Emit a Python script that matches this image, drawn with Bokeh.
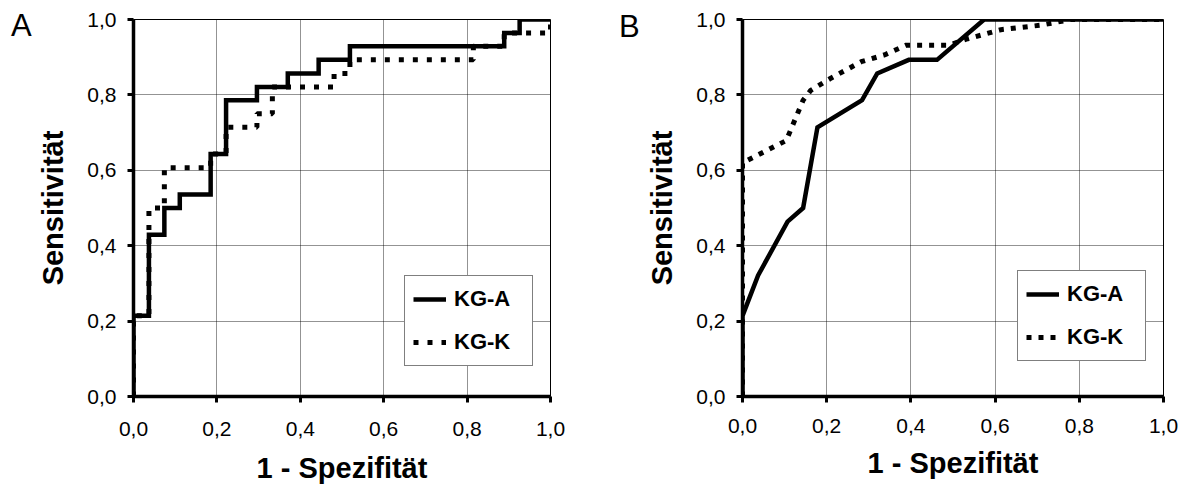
from bokeh.plotting import figure
from bokeh.layouts import row
from bokeh.models import (Range1d, FixedTicker, CustomJSTickFormatter, Legend, LegendItem,
                          Div)
from bokeh.embed import file_html
from bokeh.resources import INLINE

# ---------------- data ----------------
tick_values = [0.0, 0.2, 0.4, 0.6, 0.8, 1.0]
series_names = ["KG-A", "KG-K"]
panel_letters = ["A", "B"]
x_title = "1 - Spezifität"
y_title = "Sensitivität"

# Panel A: step ROC curves
a_kga_x = [0, 0, 0.037, 0.037, 0.074, 0.074, 0.111, 0.111, 0.185, 0.185, 0.222, 0.222,
           0.296, 0.296, 0.370, 0.370, 0.444, 0.444, 0.519, 0.519, 0.889, 0.889,
           0.926, 0.926, 1.0]
a_kga_y = [0, 0.214, 0.214, 0.429, 0.429, 0.5, 0.5, 0.536, 0.536, 0.643, 0.643, 0.786,
           0.786, 0.821, 0.821, 0.857, 0.857, 0.893, 0.893, 0.929, 0.929, 0.964,
           0.964, 1.0, 1.0]
a_kgk_x = [0, 0, 0.037, 0.037, 0.074, 0.074, 0.185, 0.185, 0.222, 0.222, 0.296, 0.296,
           0.333, 0.333, 0.481, 0.481, 0.519, 0.519, 0.815, 0.815, 0.889, 0.889,
           1.0, 1.0]
a_kgk_y = [0, 0.214, 0.214, 0.5, 0.5, 0.607, 0.607, 0.643, 0.643, 0.714, 0.714, 0.75,
           0.75, 0.821, 0.821, 0.857, 0.857, 0.893, 0.893, 0.929, 0.929, 0.964,
           0.964, 1.0]

# Panel B: polygonal ROC curves
b_kga_x = [0, 0, 0.037, 0.107, 0.144, 0.178, 0.284, 0.320, 0.395, 0.462, 0.574, 1.0]
b_kga_y = [0, 0.214, 0.321, 0.464, 0.5, 0.714, 0.786, 0.857, 0.893, 0.893, 1.0, 1.0]
b_kgk_x = [0, 0, 0.104, 0.144, 0.162, 0.211, 0.282, 0.337, 0.389, 0.490, 0.535, 0.614,
           0.709, 0.780, 1.0]
b_kgk_y = [0, 0.62, 0.679, 0.786, 0.812, 0.845, 0.888, 0.906, 0.932, 0.932, 0.949, 0.973,
           0.985, 1.0, 1.0]

FONT = "Liberation Sans"
H = 486


def letter_div(width, letter, pad_left, pad_top):
    html = ('<div style="margin:0;padding:%dpx 0 0 %dpx;font-family:\'%s\';'
            'font-size:31px;line-height:31px;color:black;">%s</div>'
            % (pad_top, pad_left, FONT, letter))
    return Div(text=html, width=width, height=H, margin=0)


def make_panel(width, b_left, b_right, b_top, b_bottom, xs, ys, legend_loc,
               dash, x_lab_standoff, x_title_standoff):
    p = figure(width=width, height=H, output_backend="svg", toolbar_location=None,
               x_range=Range1d(0, 1), y_range=Range1d(0, 1),
               min_border_left=b_left, min_border_right=b_right,
               min_border_top=b_top, min_border_bottom=b_bottom)
    p.background_fill_color = "white"
    p.border_fill_color = "white"
    p.outline_line_color = "black"
    p.outline_line_width = 1

    fmt = CustomJSTickFormatter(code="return tick.toFixed(1).replace('.', ',');")
    for ax in (p.xaxis[0], p.yaxis[0]):
        ax.ticker = FixedTicker(ticks=tick_values)
        ax.formatter = fmt
        ax.axis_line_width = 3.5
        ax.axis_line_color = "black"
        ax.major_tick_line_width = 3
        ax.major_tick_line_color = "black"
        ax.major_tick_out = 6
        ax.major_tick_in = 0
        ax.minor_tick_line_color = None
        ax.major_label_text_font = FONT
        ax.major_label_text_font_size = "21px"
        ax.major_label_text_color = "black"
        ax.axis_label_text_font = FONT
        ax.axis_label_text_font_size = "29px"
        ax.axis_label_text_font_style = "bold"
        ax.axis_label_text_color = "black"
    p.xaxis.axis_label = x_title
    p.yaxis.axis_label = y_title
    p.xaxis.major_label_standoff = x_lab_standoff
    p.xaxis.axis_label_standoff = x_title_standoff
    p.yaxis.major_label_standoff = 11
    p.yaxis.axis_label_standoff = 15

    for g in (p.xgrid[0], p.ygrid[0]):
        g.ticker = FixedTicker(ticks=tick_values)
        g.grid_line_color = "black"
        g.grid_line_width = 1
        g.grid_line_dash = "1 1"
        g.grid_line_alpha = 0.85

    r1 = p.line(xs[0], ys[0], line_color="black", line_width=4.5, line_join="miter")
    r2 = p.line(xs[1], ys[1], line_color="black", line_width=5, line_dash=dash,
                line_cap="butt")

    legend = Legend(items=[LegendItem(label=series_names[0], renderers=[r1]),
                           LegendItem(label=series_names[1], renderers=[r2])],
                    location=legend_loc)
    legend.border_line_color = "black"
    legend.border_line_width = 1
    legend.background_fill_color = "white"
    legend.background_fill_alpha = 1
    legend.label_text_font = FONT
    legend.label_text_font_size = "22px"
    legend.label_text_font_style = "bold"
    legend.label_text_color = "black"
    legend.padding = 8
    legend.spacing = 13
    legend.glyph_width = 33
    legend.glyph_height = 30
    legend.label_height = 30
    legend.label_width = 70
    legend.label_standoff = 8
    legend.margin = 0
    p.add_layout(legend)
    return p


lA = letter_div(34, panel_letters[0], 11, 10)
pA = make_panel(559, 98, 43, 19, 89, (a_kga_x, a_kgk_x), (a_kga_y, a_kgk_y),
                (271, 30), "5 9", 19, 13)
lB = letter_div(50, panel_letters[1], 26, 11)
pB = make_panel(544, 98, 24, 17, 85, (b_kga_x, b_kgk_x), (b_kga_y, b_kgk_y),
                (275, 35), "5 7", 16, 11)

layout = row(lA, pA, lB, pB)
open("out.html", "w").write(file_html(layout, INLINE))
